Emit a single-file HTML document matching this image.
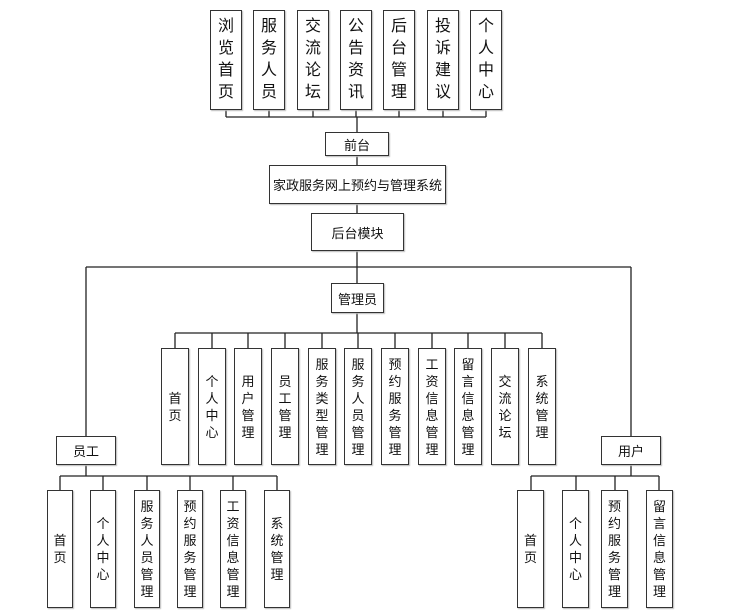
<!DOCTYPE html>
<html><head><meta charset="utf-8"><style>
html,body{margin:0;padding:0;background:#fff;}
#c{position:relative;width:755px;height:615px;overflow:hidden;font-family:"Liberation Sans","Noto Sans CJK SC",sans-serif;color:#111;}
.b{position:absolute;box-sizing:border-box;border:1.5px solid #333;background:#fff;display:flex;align-items:center;justify-content:center;text-align:center;box-shadow:1px 1px 1px #bbb;}
.v{word-break:break-all;width:1em;}
.t{font-size:16px;line-height:22px;}
.s{font-size:13px;line-height:17px;}
.h{font-size:13px;}
svg{position:absolute;left:0;top:0;}
</style></head><body><div id="c">
<svg width="755" height="615" stroke="#222" stroke-width="1.3" fill="none">
<path d="M226 110V117M269 110V117M313 110V117M356 110V117M399 110V117M443 110V117M486 110V117M226 117H486"/>
<path d="M357 117V132M357 156V165M357 204V213M357 251V283M86 267H631M86 267V436M631 267V436"/>
<path d="M357 313V333M175 333H542M175 333V348M212 333V348M248 333V348M285 333V348M322 333V348M358 333V348M395 333V348M432 333V348M468 333V348M505 333V348M542 333V348"/>
<path d="M86 465V476M60 476H277M60 476V490M103 476V490M147 476V490M190 476V490M233 476V490M277 476V490"/>
<path d="M631 465V476M531 476H659M531 476V490M576 476V490M615 476V490M659 476V490"/>
</svg>
<div class="b t" style="left:210px;top:10px;width:32px;height:100px"><span class="v">浏览首页</span></div>
<div class="b t" style="left:253px;top:10px;width:32px;height:100px"><span class="v">服务人员</span></div>
<div class="b t" style="left:297px;top:10px;width:32px;height:100px"><span class="v">交流论坛</span></div>
<div class="b t" style="left:340px;top:10px;width:32px;height:100px"><span class="v">公告资讯</span></div>
<div class="b t" style="left:383px;top:10px;width:32px;height:100px"><span class="v">后台管理</span></div>
<div class="b t" style="left:427px;top:10px;width:32px;height:100px"><span class="v">投诉建议</span></div>
<div class="b t" style="left:470px;top:10px;width:32px;height:100px"><span class="v">个人中心</span></div>
<div class="b h" style="left:325px;top:132px;width:64px;height:24px">前台</div>
<div class="b h" style="left:269px;top:165px;width:177px;height:39px">家政服务网上预约与管理系统</div>
<div class="b h" style="left:311px;top:213px;width:93px;height:38px">后台模块</div>
<div class="b h" style="left:331px;top:283px;width:53px;height:30px">管理员</div>
<div class="b s" style="left:161px;top:348px;width:28px;height:117px"><span class="v">首页</span></div>
<div class="b s" style="left:198px;top:348px;width:28px;height:117px"><span class="v">个人中心</span></div>
<div class="b s" style="left:234px;top:348px;width:28px;height:117px"><span class="v">用户管理</span></div>
<div class="b s" style="left:271px;top:348px;width:28px;height:117px"><span class="v">员工管理</span></div>
<div class="b s" style="left:308px;top:348px;width:28px;height:117px"><span class="v">服务类型管理</span></div>
<div class="b s" style="left:344px;top:348px;width:28px;height:117px"><span class="v">服务人员管理</span></div>
<div class="b s" style="left:381px;top:348px;width:28px;height:117px"><span class="v">预约服务管理</span></div>
<div class="b s" style="left:418px;top:348px;width:28px;height:117px"><span class="v">工资信息管理</span></div>
<div class="b s" style="left:454px;top:348px;width:28px;height:117px"><span class="v">留言信息管理</span></div>
<div class="b s" style="left:491px;top:348px;width:28px;height:117px"><span class="v">交流论坛</span></div>
<div class="b s" style="left:528px;top:348px;width:28px;height:117px"><span class="v">系统管理</span></div>
<div class="b h" style="left:56px;top:436px;width:60px;height:29px">员工</div>
<div class="b h" style="left:601px;top:436px;width:60px;height:29px">用户</div>
<div class="b s" style="left:47px;top:490px;width:26px;height:118px"><span class="v">首页</span></div>
<div class="b s" style="left:90px;top:490px;width:26px;height:118px"><span class="v">个人中心</span></div>
<div class="b s" style="left:134px;top:490px;width:26px;height:118px"><span class="v">服务人员管理</span></div>
<div class="b s" style="left:177px;top:490px;width:26px;height:118px"><span class="v">预约服务管理</span></div>
<div class="b s" style="left:220px;top:490px;width:26px;height:118px"><span class="v">工资信息管理</span></div>
<div class="b s" style="left:264px;top:490px;width:26px;height:118px"><span class="v">系统管理</span></div>
<div class="b s" style="left:517px;top:490px;width:27px;height:118px"><span class="v">首页</span></div>
<div class="b s" style="left:562px;top:490px;width:27px;height:118px"><span class="v">个人中心</span></div>
<div class="b s" style="left:601px;top:490px;width:27px;height:118px"><span class="v">预约服务管理</span></div>
<div class="b s" style="left:646px;top:490px;width:27px;height:118px"><span class="v">留言信息管理</span></div>
</div></body></html>
